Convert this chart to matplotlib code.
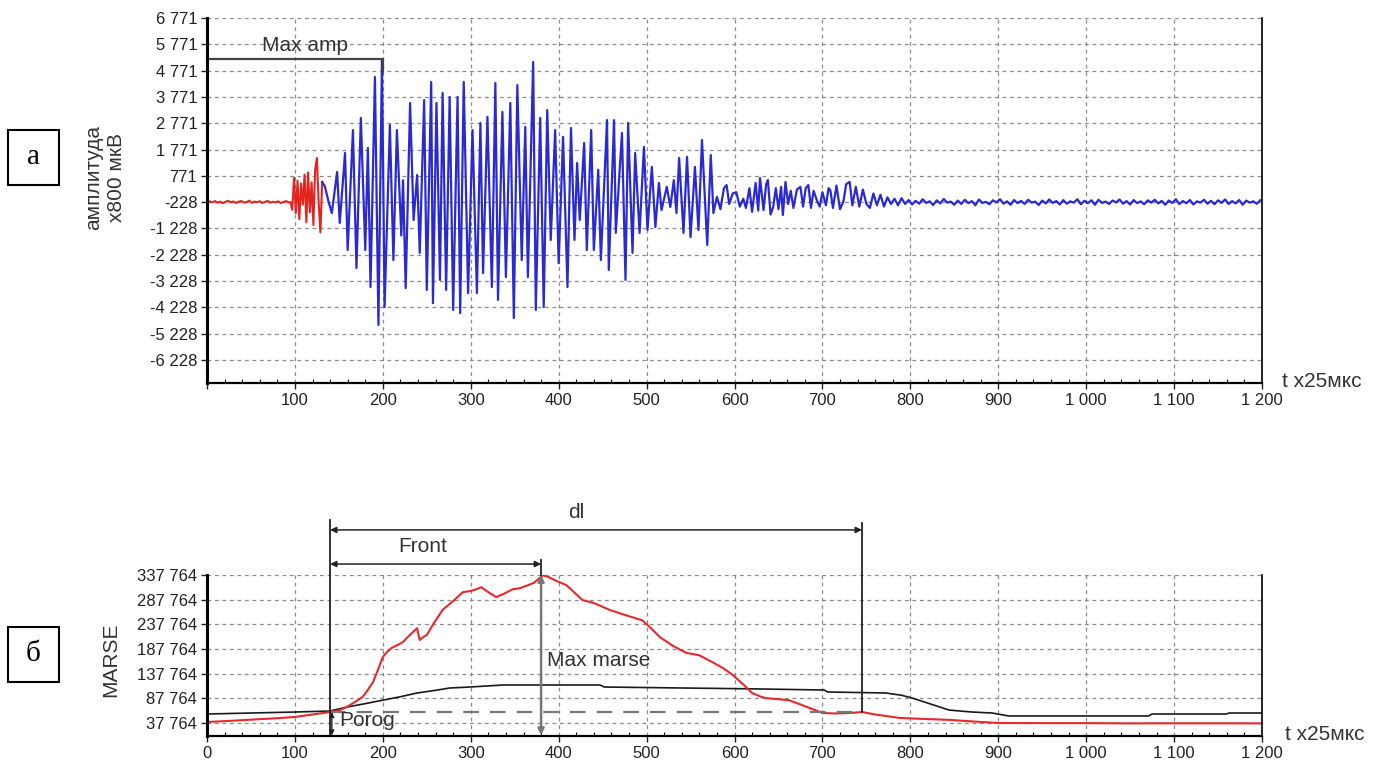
import numpy as np
import matplotlib
matplotlib.use("Agg")
import matplotlib.pyplot as plt
from matplotlib.patches import Rectangle
from matplotlib.ticker import FixedLocator, MultipleLocator

plt.rcParams['font.family'] = ['Liberation Sans', 'DejaVu Sans']

# ---- top panel: waveform (amplitude x800 uV vs t x25 us) ----
# red pre-trigger noise, sampled every 3 t units from t=0
pre_noise = [-260, -200, -240, -190, -250, -210, -270, -220, -180, -240, -205,
             -265, -215, -190, -245, -230, -175, -255, -210, -235, -195, -260,
             -220, -185, -250, -215, -240, -200, -265, -225, -190, -245]
pre_step = 3

# red onset: extremes
red_t = [95, 97, 99, 101, 103, 105, 107, 109, 111, 113, 115, 117, 119, 121, 123,
         125, 127, 129, 131]
red_v = [-228, -520, 700, -650, 580, -880, 480, -320, 820, -1000, 900, -620, 520,
         -1100, 1000, 1450, -250, -1380, 535]

# blue part: extremes
blue_t = [131, 134, 138, 142, 148, 151, 157, 160, 166, 170, 175, 180, 183, 186, 191,
          195, 199, 202, 208, 212, 216, 221, 223, 226, 231, 235, 239, 242, 247, 250,
          255, 257, 261, 265, 268, 272, 276, 280, 285, 288, 292, 297, 302, 307, 311,
          314, 319, 324, 328, 331, 336, 340, 345, 349, 353, 358, 362, 365, 371, 374,
          379, 383, 387, 391, 396, 400, 405, 410, 414, 418, 421, 424, 429, 432, 437,
          440, 445, 448, 455, 457, 463, 465, 472, 476, 479, 484, 487, 492, 497, 501,
          506, 510, 514, 517, 523, 527, 531, 534, 537, 542, 546, 550, 555, 559, 563,
          569, 573, 576, 580, 584, 588, 591, 594, 598, 602, 606, 610, 613, 617, 620,
          624, 627, 629, 633, 636, 638, 641, 644, 647, 650, 653, 655, 658, 661, 664,
          667, 671, 675, 678, 681, 684, 687, 690, 694, 697, 700, 704, 707, 709, 712,
          716, 720, 724, 727, 731, 734, 738, 742, 746, 750, 754, 758, 762, 766, 770,
          774, 778, 782, 786, 790, 794]
blue_v = [535, 380, -180, -645, 915, -1020, 1640, -2050, 2510, -2735, 2970, -2050,
          1830, -3460, 4530, -4900, 5170, -4220, 2700, -2430, 2510, -1500, 600, -3500,
          3540, -910, 800, -2160, 3650, -3570, 4340, -4070, 3540, -3190, 3920, -3570,
          3770, -4330, 3770, -4450, 4340, -3690, 2510, -3690, 2780, -2930, 3010, -3460,
          4300, -3950, 3200, -3080, 3540, -4640, 4220, -2430, 2630, -3080, 5100, -4330,
          2970, -4220, 3270, -1670, 2510, -2550, 2250, -3460, 2590, -1670, 1260, -910,
          2020, -2050, 2510, -2050, 1000, -2430, 2890, -2810, 2890, -1400, 2400, -3190,
          2780, -2160, 1640, -1400, 1870, -1290, 1110, -1180, 500, -530, 350, -415,
          610, -645, 1450, -1400, 1490, -1560, 1110, -1290, 2130, -1860, 1560, -645,
          -30, -500, 300, 420, -300, 100, 150, -400, -100, -450, 300, -600, 500, -550,
          690, -530, 450, 610, -700, -415, 300, -500, 350, -720, 535, -300, 200, -450,
          250, 350, -400, 300, 420, -450, 200, -190, -400, 150, -350, 300, 230, -450,
          400, -500, -190, 450, 540, -350, 350, -400, 250, -300, -450, 100, -350, 50,
          -400, -50, -300, -100, -350, -80, -300]

# blue tail noise, every 4 t units from t=798
tail_noise = [-150, -320, -180, -290, -120, -260, -200, -340, -160, -280, -110,
              -250, -210, -330, -170, -300, -140, -270, -190, -350, -130, -260,
              -220, -310, -160, -240, -120, -290, -200, -330, -150, -270, -180,
              -300, -140, -250, -210, -340, -170, -280, -130, -260, -190, -320,
              -150, -290, -200, -250, -120, -310, -180, -270, -160, -330, -140,
              -260, -210, -300, -170, -240, -130, -290, -190, -320, -150, -270,
              -200, -310, -160, -250, -140, -280, -180, -330, -170, -260, -120,
              -300, -190, -270, -150, -320, -200, -250, -140, -290, -180, -310,
              -160, -260, -130, -300, -190, -280, -150, -330, -170, -250, -200,
              -290, -160]
tail_start, tail_step = 798, 4

top_yticks = [6771, 5771, 4771, 3771, 2771, 1771, 771, -228, -1228, -2228, -3228,
              -4228, -5228, -6228]
top_ylabels = ['6 771', '5 771', '4 771', '3 771', '2 771', '1 771', '771', '-228',
               '-1 228', '-2 228', '-3 228', '-4 228', '-5 228', '-6 228']
xticks = [0, 100, 200, 300, 400, 500, 600, 700, 800, 900, 1000, 1100, 1200]
xlabels = ['0', '100', '200', '300', '400', '500', '600', '700', '800', '900',
           '1 000', '1 100', '1 200']
max_amp_level = 5212

# ---- bottom panel: MARSE ----
marse_t = [0, 20, 40, 60, 80, 100, 120, 140, 150, 159, 168, 177, 183, 189, 195, 200,
           205, 210, 217, 223, 230, 236, 239, 242, 246, 250, 258, 268, 280, 291, 299,
           305, 312, 320, 329, 338, 348, 356, 365, 372, 378, 382, 388, 396, 409, 418,
           427, 440, 458, 475, 495, 505, 515, 530, 545, 560, 575, 588, 598, 610, 620,
           630, 636, 650, 662, 680, 700, 715, 731, 745, 760, 788, 815, 845, 870, 901,
           950, 1000, 1050, 1100, 1150, 1200]
marse_v = [39800, 41500, 43500, 45500, 47500, 50000, 55000, 60000, 63000, 70200,
           80000, 90500, 105000, 120900, 148000, 171500, 182000, 190000, 196000,
           202000, 215000, 225000, 230000, 206000, 212000, 216000, 240000, 267000,
           285000, 303000, 305000, 308000, 313000, 303000, 293000, 300000, 309000,
           311000, 317000, 322000, 331000, 337000, 334000, 327000, 317000, 302000,
           287000, 281000, 267000, 257000, 246000, 230000, 212000, 194000, 180000,
           175000, 161000, 148000, 135000, 116000, 98600, 91000, 88000, 86000, 84000,
           72000, 58000, 57000, 58000, 60000, 55000, 48000, 46000, 44000, 41000,
           37700, 37500, 37500, 37000, 37200, 37200, 37000]

avg_t = [0, 50, 100, 140, 159, 180, 200, 220, 239, 260, 276, 299, 337, 447, 452, 541,
         620, 702, 706, 772, 790, 802, 820, 844, 870, 893, 912, 1071, 1075, 1159,
         1163, 1200]
avg_v = [56000, 58000, 60000, 62000, 70000, 77000, 84000, 91000, 98600, 104000,
         108700, 110700, 114800, 114800, 110700, 108700, 107000, 104600, 100600,
         98600, 94000, 88400, 78000, 64000, 60000, 58000, 52000, 52000, 56000, 56000,
         58000, 58000]

bot_yticks = [337764, 287764, 237764, 187764, 137764, 87764, 37764]
bot_ylabels = ['337 764', '287 764', '237 764', '187 764', '137 764', '87 764',
               '37 764']

porog = 60000
t_start, t_peak, t_end = 140, 380, 745
peak_val = 337764

W, H = 1379, 766
fig = plt.figure(figsize=(W / 100, H / 100), dpi=100)


def fx(px):
    return px / W


def fy(py):
    return 1 - py / H


ax1 = fig.add_axes([fx(207), fy(383), fx(1262) - fx(207), fy(18) - fy(383)])
ax2 = fig.add_axes([fx(207), fy(736), fx(1262) - fx(207), fy(575) - fy(736)])

grid_kw = dict(color='#8a8a8a', linestyle=(0, (3, 3)), linewidth=0.9)


def style(ax, yt, yl, xl):
    ax.set_xlim(0, 1200)
    ax.yaxis.set_major_locator(FixedLocator(yt))
    ax.set_yticklabels(yl)
    ax.xaxis.set_major_locator(FixedLocator(xticks))
    ax.set_xticklabels(xl)
    ax.xaxis.set_minor_locator(MultipleLocator(20))
    ax.grid(True, which='major', **grid_kw)
    ax.spines['top'].set_visible(False)
    ax.spines['left'].set_linewidth(2.2)
    ax.spines['bottom'].set_linewidth(1.6)
    ax.spines['right'].set_linewidth(1.2)
    ax.tick_params(axis='both', which='major', labelsize=12, length=4, width=1,
                   colors='#222222', pad=3)
    ax.tick_params(axis='x', which='minor', direction='in', length=3, width=0.8)
    ax.set_axisbelow(True)


# top waveform
pre_t = np.arange(len(pre_noise)) * pre_step
ax1.plot(list(pre_t) + red_t, pre_noise + red_v, color='#e3241f', lw=1.5)
tail_t = tail_start + np.arange(len(tail_noise)) * tail_step
ax1.plot(blue_t + list(tail_t), blue_v + tail_noise, color='#2a2ad2', lw=1.6)
ax1.set_ylim(-7107, 6771)
style(ax1, top_yticks, top_ylabels, [''] + xlabels[1:])

ax1.plot([0, 200, 200], [max_amp_level, max_amp_level, 4700], color='#444444',
         lw=1.6, clip_on=False)
ax1.text(112, max_amp_level + 150, 'Max amp', ha='center', va='bottom',
         fontsize=15, color='#333333')

# bottom MARSE
ax2.plot(avg_t, avg_v, color='#1a1a1a', lw=1.2)
ax2.plot(marse_t, marse_v, color='#e8282d', lw=1.5)
ax2.set_ylim(11400, peak_val)
style(ax2, bot_yticks, bot_ylabels, xlabels)

ax2.plot([t_start, t_end], [porog, porog], color='#777777', lw=1.6,
         linestyle=(0, (7, 5)))

tr = ax2.get_xaxis_transform()
ax2.plot([t_start, t_start], [0, 1.342], transform=tr, color='#222222', lw=1.3,
         clip_on=False)
ax2.plot([t_end, t_end], [ax2.transLimits.transform((0, porog))[1], 1.323],
         transform=tr, color='#222222', lw=1.3, clip_on=False)
ax2.plot([t_peak, t_peak], [1.0, 1.093], transform=tr, color='#222222', lw=1.3,
         clip_on=False)

arrow_kw = dict(arrowstyle='<|-|>', color='#222222', lw=1.1, shrinkA=0, shrinkB=0,
                mutation_scale=9)
ax2.annotate('', xy=(t_start, 1.28), xytext=(t_end, 1.28), xycoords=tr,
             textcoords=tr, arrowprops=arrow_kw, annotation_clip=False)
ax2.text(420, 1.33, 'dl', transform=tr, ha='center', va='bottom', fontsize=15,
         color='#333333')
ax2.annotate('', xy=(t_start, 1.068), xytext=(t_peak, 1.068), xycoords=tr,
             textcoords=tr, arrowprops=arrow_kw, annotation_clip=False)
ax2.text(245, 1.115, 'Front', transform=tr, ha='center', va='bottom', fontsize=15,
         color='#333333')

ax2.annotate('', xy=(t_peak, peak_val), xytext=(t_peak, 13000),
             arrowprops=dict(arrowstyle='<|-|>', color='#777777', lw=1.8,
                             shrinkA=0, shrinkB=0, mutation_scale=9),
             annotation_clip=False)
ax2.text(387, 165000, 'Max marse', ha='left', va='center', fontsize=15,
         color='#333333')

ax2.annotate('', xy=(t_start + 2, porog), xytext=(t_start + 2, 12500),
             arrowprops=dict(arrowstyle='<|-|>', color='#222222', lw=1.0,
                             shrinkA=0, shrinkB=0, mutation_scale=7),
             annotation_clip=False)
ax2.text(t_start + 10, 42000, 'Porog', ha='left', va='center', fontsize=15,
         color='#333333')

# axis labels
fig.text(fx(105), fy(178), 'амплитуда\nх800 мкВ', rotation=90, ha='center',
         va='center', fontsize=15, color='#333333', linespacing=1.2)
fig.text(fx(111), fy(660), 'MARSE', rotation=90, ha='center', va='center',
         fontsize=15, color='#333333')
fig.text(fx(1282), fy(382), 't x25мкс', ha='left', va='center', fontsize=15,
         color='#333333')
fig.text(fx(1285), fy(735), 't x25мкс', ha='left', va='center', fontsize=15,
         color='#333333')

# panel letters
for letter, top in [('а', 130), ('б', 627)]:
    fig.patches.append(Rectangle((fx(8), fy(top + 55)), fx(51), 55 / H,
                                 transform=fig.transFigure, fill=False,
                                 edgecolor='black', lw=1.5))
    fig.text(fx(33.5), fy(top + 27), letter, ha='center', va='center',
             fontsize=21, family=['Liberation Serif', 'DejaVu Serif'])

fig.savefig('out.png', dpi=100)
